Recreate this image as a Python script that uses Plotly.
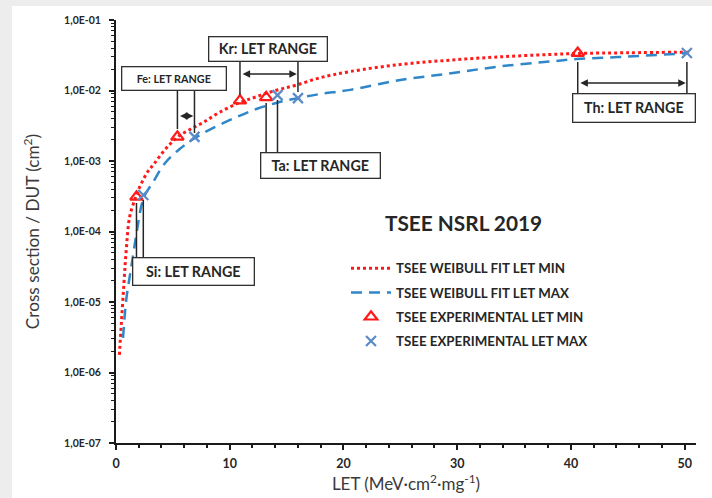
import plotly.graph_objects as go

# ---------------- data ----------------
fit_min_let = [0.30, 0.47, 0.70, 0.90, 1.20, 1.64, 1.80, 2.00, 2.80, 3.30, 4.00, 4.75, 5.50,
               6.50, 7.70, 9.10, 10.75, 12.10, 13.20, 14.50, 15.90, 17.90, 20.60, 25.00,
               29.30, 33.70, 38.10, 40.50, 45.00, 50.50]
fit_min_xs = [1.78e-6, 5.0e-6, 1.86e-5, 5.5e-5, 1.62e-4, 2.8e-4, 3.3e-4, 4.0e-4, 7.1e-4, 8.9e-4,
              1.26e-3, 1.74e-3, 2.24e-3, 2.8e-3, 3.55e-3, 4.9e-3, 6.6e-3, 7.9e-3, 9.1e-3,
              1.05e-2, 1.2e-2, 1.51e-2, 1.86e-2, 2.34e-2, 2.69e-2, 3.0e-2, 3.24e-2, 3.35e-2,
              3.43e-2, 3.5e-2]

fit_max_let = [0.62, 0.90, 1.35, 1.80, 2.20, 2.50, 3.25, 4.30, 5.60, 6.95, 8.55, 10.60, 12.40,
               14.30, 16.00, 17.90, 20.60, 25.00, 29.30, 33.70, 38.10, 40.50, 44.90, 50.30]
fit_max_xs = [3.1e-6, 1.07e-5, 3.2e-5, 9.3e-5, 2.2e-4, 3.2e-4, 5.0e-4, 9.3e-4, 1.48e-3, 2.12e-3,
              2.95e-3, 4.2e-3, 5.5e-3, 6.8e-3, 7.8e-3, 8.9e-3, 1.02e-2, 1.41e-2, 1.74e-2,
              2.19e-2, 2.57e-2, 2.79e-2, 3.02e-2, 3.39e-2]

ions = ["Si", "Fe", "Kr", "Ta", "Th"]
let_min = [1.8, 5.4, 10.9, 13.2, 40.6]
let_max = [2.4, 6.9, 16.0, 14.2, 50.2]
xs_let_min = [3.1e-4, 2.2e-3, 7.2e-3, 8.0e-3, 3.4e-2]
xs_let_max = [3.3e-4, 2.2e-3, 7.8e-3, 8.6e-3, 3.4e-2]

y_tickvals = [1e-7, 1e-6, 1e-5, 1e-4, 1e-3, 1e-2, 1e-1]
y_ticktext = ["1,0E-07", "1,0E-06", "1,0E-05", "1,0E-04", "1,0E-03", "1,0E-02", "1,0E-01"]
x_tickvals = [0, 10, 20, 30, 40, 50]

legend_names = ["TSEE WEIBULL FIT LET MIN", "TSEE WEIBULL FIT LET MAX",
                "TSEE EXPERIMENTAL LET MIN", "TSEE EXPERIMENTAL LET MAX"]
chart_title = "TSEE NSRL 2019"
# fragments of the (cropped-away) slide heading visible along the top edge
heading_fragments = ["g", "y"]

# ---------------- style / layout ----------------
W, H = 712, 498
PL, PR, PT, PB = 116, 696, 20, 443
FONT = "Lato"
TXT = "#3a3a3a"
RED = "#ff1a1a"
BLUE = "#2f86c8"
XBLUE = "#5a8bc8"


def px(x):
    return (x - PL) / (PR - PL)


def py(y):
    return (PB - y) / (PB - PT)


fig = go.Figure()
fig.add_trace(go.Scatter(x=fit_min_let, y=fit_min_xs, mode="lines", name=legend_names[0],
                         line=dict(color=RED, width=3, dash="dot", shape="spline"),
                         legendgroup="a"))
fig.add_trace(go.Scatter(x=fit_max_let, y=fit_max_xs, mode="lines", name=legend_names[1],
                         line=dict(color=BLUE, width=2.5, dash="11px,7px", shape="spline"),
                         legendgroup="b"))
fig.add_trace(go.Scatter(x=let_min, y=xs_let_min, mode="markers", name=legend_names[2],
                         marker=dict(symbol="triangle-up-open", size=11, color=RED,
                                     line=dict(width=2.2, color=RED)),
                         legendgroup="c"))
fig.add_trace(go.Scatter(x=let_max, y=xs_let_max, mode="markers", name=legend_names[3],
                         marker=dict(symbol="x-thin-open", size=10, color=XBLUE,
                                     line=dict(width=2.2, color=XBLUE)),
                         legendgroup="d"))

# label boxes: centre (px), size (px), font size
boxes = {
    "Si": dict(c=(193, 271), w=122, h=28, fs=14.3),
    "Fe": dict(c=(173.5, 78), w=105, h=24, fs=10.8),
    "Kr": dict(c=(267.5, 48.5), w=119, h=25, fs=14.3),
    "Ta": dict(c=(320, 165), w=120, h=26, fs=14.3),
    "Th": dict(c=(633.5, 107.5), w=123, h=29, fs=14.3),
}
# connector lines (pixel y from / to) and arrow y
connectors = {
    "Si": dict(ymin=(257, 203), ymax=(257, 200), arrow=None),
    "Fe": dict(ymin=(90, 129), ymax=(90, 133), arrow=116),
    "Kr": dict(ymin=(61, 95), ymax=(61, 92), arrow=74),
    "Ta": dict(ymin=(152, 103), ymax=(152, 100), arrow=None),
    "Th": dict(ymin=(93, 62), ymax=(93, 62), arrow=83),
}

shapes = [dict(type="rect", xref="paper", yref="paper", x0=px(12), x1=px(760),
               y0=py(520), y1=py(6), fillcolor="white", line=dict(width=0), layer="below")]
annotations = []
for i, ion in enumerate(ions):
    b = boxes[ion]
    annotations.append(dict(
        x=px(b["c"][0]), y=py(b["c"][1]), xref="paper", yref="paper",
        text=f"{ion}: LET RANGE", showarrow=False, xanchor="center", yanchor="middle",
        width=b["w"] - 2, height=b["h"] - 2, borderpad=0, bgcolor="white",
        bordercolor="#303030", borderwidth=1.3,
        font=dict(family=FONT, size=b["fs"], color="#262626", weight="bold")))
    cn = connectors[ion]
    for xv, (ya, yb) in ((let_min[i], cn["ymin"]), (let_max[i], cn["ymax"])):
        shapes.append(dict(type="line", xref="x", yref="paper", x0=xv, x1=xv,
                           y0=py(ya), y1=py(yb), line=dict(color="#262626", width=1.5)))
    if cn["arrow"] is not None:
        annotations.append(dict(
            x=let_max[i] - 0.1, y=py(cn["arrow"]), xref="x", yref="paper",
            ax=let_min[i] + 0.1, ay=0, axref="x", ayref="pixel", text="",
            showarrow=True, arrowhead=2, arrowside="end+start", arrowsize=1,
            arrowwidth=1.5, arrowcolor="#262626", standoff=0, startstandoff=0))

annotations.append(dict(x=px(463.5), y=py(222), xref="paper", yref="paper",
                        text=chart_title, showarrow=False, xanchor="center", yanchor="middle",
                        font=dict(family=FONT, size=20.8, color="#262626", weight="bold")))

# heading remnants along the top edge (only their lowest pixels are visible)
for ch, xc in zip(heading_fragments, (356, 660)):
    annotations.append(dict(x=px(xc), y=py(17), xref="paper", yref="paper", text=ch,
                            showarrow=False, xanchor="center", yanchor="bottom", yshift=24,
                            font=dict(family=FONT, size=64, color="#0f2d5c", weight="bold")))

minor_y = [m * 10.0 ** e for e in range(-7, -1) for m in range(2, 10)]

fig.update_layout(
    width=W, height=H,
    margin=dict(l=PL, r=W - PR, t=PT, b=H - PB, pad=0),
    paper_bgcolor="#ededed", plot_bgcolor="white",
    font=dict(family=FONT, color=TXT),
    showlegend=True,
    legend=dict(x=px(346), y=py(253), xanchor="left", yanchor="top",
                bgcolor="rgba(0,0,0,0)", tracegroupgap=4, itemwidth=40,
                font=dict(family=FONT, size=13.3, color="#262626", weight="bold")),
    shapes=shapes,
    annotations=annotations,
    xaxis=dict(range=[0, 51], tickmode="array", tickvals=x_tickvals, automargin=False,
               showgrid=False, zeroline=False, showline=True, linecolor="#1a1a1a", linewidth=2,
               ticks="outside", ticklen=5, tickwidth=2, tickcolor="#1a1a1a",
               ticklabelstandoff=3,
               minor=dict(dtick=2, ticks="outside", ticklen=3, tickwidth=1.5,
                          tickcolor="#1a1a1a", showgrid=False),
               tickfont=dict(family=FONT, size=12.5, color="#262626", weight="bold"),
               title=dict(text="LET (MeV·cm<sup>2</sup>·mg<sup>-1</sup>)", standoff=6,
                          font=dict(family=FONT, size=17, color=TXT))),
    yaxis=dict(type="log", range=[-7, -1], tickmode="array", tickvals=y_tickvals,
               ticktext=y_ticktext, showgrid=False, zeroline=False, showline=True,
               automargin=False,
               linecolor="#1a1a1a", linewidth=2, ticks="outside", ticklen=5, tickwidth=2,
               tickcolor="#1a1a1a", ticklabelstandoff=6,
               minor=dict(tickmode="array", tickvals=minor_y, ticks="outside", ticklen=3,
                          tickwidth=1.2, tickcolor="#1a1a1a", showgrid=False),
               tickfont=dict(family=FONT, size=10.5, color="#262626", weight="bold"),
               title=dict(text="Cross section / DUT (cm<sup>2</sup>)", standoff=20,
                          font=dict(family=FONT, size=17.2, color=TXT))),
)

fig.write_html("out.html")
